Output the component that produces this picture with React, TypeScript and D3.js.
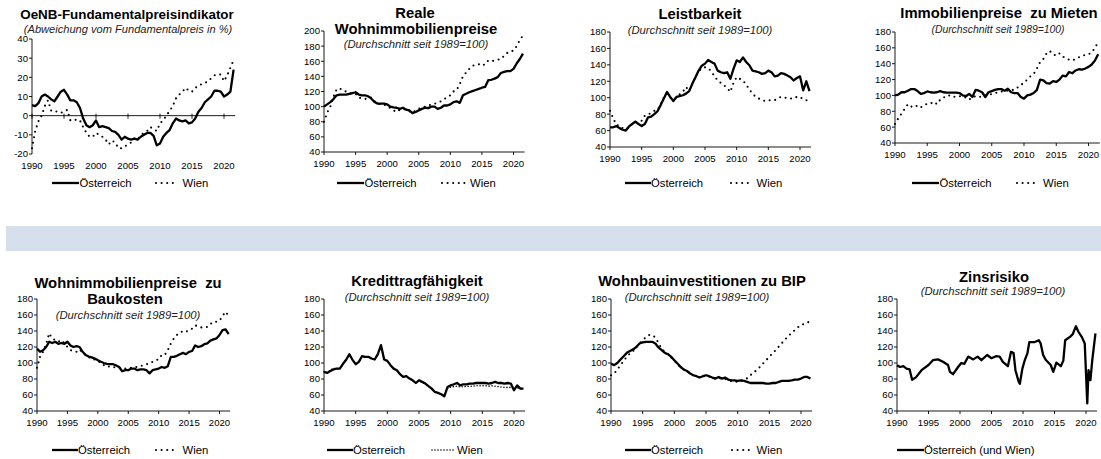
import React from 'react';
import * as d3 from 'd3';

// half-year grid of the series (1990 .. 2021.5)
const halfYears = d3.range(64).map(i => 1990 + i * 0.5);
const yearTicks = [1990, 1995, 2000, 2005, 2010, 2015, 2020];

// OeNB-Fundamentalpreisindikator (% deviation)
const fpiAT = [
  5.5, 5, 6.5, 10, 11, 10, 8.5, 7.5, 10, 12.5,
  13.5, 11, 8, 8, 7, 4, -1.5, -5, -6, -5,
  -2.5, -6, -5.5, -6, -6.5, -8, -8.5, -10, -12.5, -11,
  -12, -12.5, -12, -12.5, -11, -10, -9, -9, -10.5, -15.5,
  -14.5, -11, -9, -7.5, -4, -1.5, -2.5, -3, -2.5, -4,
  -3.5, -1.5, 2, 4, 7, 8.5, 10, 13, 13, 12.5,
  10, 11, 12.5, 24,
];
const fpiW = [
  -17, -8, -3, 0, 5, 8, 2.5, 2.5, 2, 1.5,
  2, 3, -2.5, -2.5, -2, -2.5, -6, -9, -11, -11,
  -9, -10, -11, -12.5, -15, -13, -14, -17, -17, -16,
  -15, -14, -12, -12.5, -10, -9, -8, -6, -7, -8,
  -4, -2.5, 0, 2.5, 5, 9, 11, 12.5, 14.5, 13,
  12.5, 14.5, 15.5, 16.5, 17, 18, 19.5, 21, 21.5, 21.5,
  18, 21, 25, 29,
];

// Reale Wohnimmobilienpreise
const realAT = [
  100, 103, 106, 110, 115, 116, 116, 116, 117, 118,
  119, 116, 115, 115, 113.5, 110.5, 106, 104, 104, 104,
  103, 100, 99, 98.5, 97, 98.5, 96, 95, 91.5, 93,
  95, 97, 98.5, 98, 100, 100, 97, 98.5, 101.5, 101.5,
  103, 106, 107, 105, 115, 117, 119, 120.5, 122, 123.5,
  125, 126, 135, 135.5, 137, 139, 144.5, 146, 147, 147,
  150, 157, 163, 170,
];
const realW = [
  80, 92, 100, 113, 123, 124, 121, 120, 118, 117,
  117, 112, 111, 110, 112, 112, 107, 104, 103, 103,
  100, 98, 95, 93, 96, 97, 96, 94, 92, 95,
  97, 99, 100, 101, 103, 104, 105, 107, 110, 112,
  115, 120, 122, 130, 140, 145, 150, 154, 155, 156,
  154, 156, 161, 160, 161, 162, 163, 167, 171, 173,
  174, 180, 188, 194,
];

// Leistbarkeit
const leistAT = [
  64, 64, 65.5, 63, 61, 60, 65, 68, 71, 68,
  65.5, 68, 76, 77, 80, 83.5, 91, 99, 107, 101,
  96, 101, 102, 103, 105, 108, 117, 125, 133, 139,
  141.5, 146, 143.5, 141.5, 133, 131, 130, 131, 123, 135,
  145.5, 143.5, 149, 143.5, 139.5, 133, 132, 131, 129, 130,
  133, 131, 126, 127, 130, 129, 127, 125, 121, 124,
  126, 109, 120, 108,
];
const leistW = [
  84, 75, 67, 66, 63, 62, 64, 68, 70, 69,
  72, 78, 79, 82, 84, 85, 92, 100, 105, 100,
  98, 100, 104, 107, 113, 108, 117, 126, 132, 136,
  137, 136, 132, 126, 121, 118, 115, 112, 107, 118,
  125, 123, 121, 116, 110, 105, 101, 99, 97, 96,
  97, 97, 97, 99, 101, 100, 100, 99, 99, 101,
  101, 98, 97, 95,
];

// Immobilienpreise zu Mieten
const mieteAT = [
  100, 101, 104, 104, 106, 108, 108, 105.5, 102, 103,
  105, 104, 103.5, 104, 105.5, 104, 103.5, 103.5, 103.5, 103.5,
  103, 100, 99, 102, 98, 107, 106, 104, 98, 104,
  105.5, 107, 108, 108, 106, 108.5, 104, 103, 103, 98,
  96, 100, 101, 103, 107, 120, 119, 115.5, 115, 118,
  117, 120, 125, 124, 129.5, 128, 131.5, 133, 132.5, 134,
  136, 139, 144, 152,
];
const mieteW = [
  64, 71, 77, 83, 89, 86, 85, 87.5, 85, 87.5,
  89.5, 89.5, 92, 89, 94.5, 97, 100, 100, 98, 99,
  99, 99, 97, 94.5, 98, 99, 98, 99, 100, 100,
  102, 103, 104, 105, 106, 106, 107, 107, 110, 113,
  116, 120, 124, 127, 134, 142, 146, 153, 156, 152,
  150, 153, 149, 147, 145, 144, 146, 148, 150, 151,
  152, 154, 160, 167,
];

// Wohnimmobilienpreise zu Baukosten
const baukAT = [
  118, 114, 116, 120, 126.5, 125, 126.5, 124, 125, 124,
  126.5, 122, 120, 121, 120, 114, 110, 108, 107, 105.5,
  103.5, 101.5, 100, 99, 98.5, 98.5, 97, 95, 89.7, 91,
  91, 93, 93, 91, 92, 92, 91, 87, 91, 92,
  93, 95, 94, 96, 107.7, 107.7, 109, 111, 112.7, 111,
  114, 115, 122, 120, 121, 123.5, 124.5, 128, 129.5, 130.7,
  135, 141, 142, 136,
];
const baukW = [
  94, 107.7, 114, 123.5, 137, 130.7, 128.6, 126.5, 128.6, 124.4,
  120, 116, 115, 114, 117, 112.7, 110, 107.7, 104.4, 104.4,
  102.7, 100, 97.3, 95, 96, 95, 94.3, 94, 93, 93,
  93, 94.3, 95, 95, 96, 97.3, 98.5, 99.3, 101.4, 103.5,
  104.4, 110, 110, 116, 124.4, 130.7, 135, 137.8, 140, 139,
  141, 143, 147, 146, 144.5, 144.5, 145, 148.6, 151.6, 151.6,
  152.8, 158.7, 164, 158.7,
];

// Kredittragfähigkeit
const kreditAT = [
  89, 87.6, 90, 92, 93, 93, 99, 104, 111, 104,
  98.5, 101.4, 108.5, 107.7, 107.7, 105.6, 104.4, 111, 122.3, 104.4,
  102.7, 97.3, 93, 91, 86, 82.6, 83.5, 80.5, 78.4, 75,
  78.4, 76.4, 74.3, 71, 68, 63.8, 62.6, 61, 58.4, 70,
  72, 73.4, 75, 72, 73.4, 73.4, 74.3, 74.3, 75, 75,
  75, 75, 74.3, 75, 76.4, 75, 75, 74.3, 75, 74.3,
  66, 72, 68, 68,
];
const kreditW = [
  89, 88, 91, 93, 93, 93, 99, 104, 110, 104,
  98.5, 101, 108, 107.5, 107.5, 105.5, 104.5, 110, 121, 104,
  102.5, 97, 93, 91, 86, 82.6, 83.5, 80.5, 78.4, 75,
  78, 76, 74, 71, 68, 64, 62.6, 61, 59, 68,
  70, 70.5, 71, 70, 70.5, 70.5, 71, 71, 71.5, 71.5,
  71.5, 71.5, 71, 71.5, 71, 70.5, 70, 69.5, 69.5, 69.5,
  67, 69, 68, 67,
];

// Wohnbauinvestitionen zu BIP
const bipAT = [
  99.3, 97.3, 100, 104.4, 108.5, 112.7, 115, 117, 120, 124.4,
  125.7, 126.5, 126.5, 126.5, 124.4, 119.4, 116, 112.7, 111, 107.7,
  103.5, 99.3, 95, 91.8, 90, 86.8, 84.7, 83.5, 81.8, 83.5,
  84.7, 83.5, 81.8, 80.5, 82.6, 80.5, 81.8, 79.3, 78.4, 78.4,
  77.6, 78.4, 77.6, 76.4, 75, 75, 75, 75, 75, 74.3,
  74.3, 75, 75, 76.4, 77.6, 77.6, 77.6, 78.4, 79.3, 79.3,
  80.5, 82.6, 82.6, 80.5,
];
const bipW = [
  84.7, 86.8, 91.8, 97.3, 102.7, 107.7, 112, 115, 119.4, 124.4,
  128.6, 132, 135, 135, 132, 125, 118, 114, 111, 106.9,
  102.7, 98.5, 94.3, 91.8, 90, 86.8, 84.7, 83.5, 82, 83,
  84, 83, 82, 80.5, 81.5, 80, 80, 78.5, 77.5, 77,
  76.5, 78, 78.4, 81, 84.7, 88, 91, 95, 99.3, 103.5,
  107.7, 112, 116, 120.5, 125, 129.5, 133.6, 137.5, 141, 144.5,
  147.4, 149, 150.3, 152.8,
];

// Zinsrisiko (read at the turning points of the line)
const zinsYears = [
  1990, 1990.5, 1991, 1991.5, 1992, 1992.4, 1993, 1993.9, 1995, 1995.7,
  1996.5, 1997.3, 1998.1, 1998.4, 1998.9, 1999.7, 2000.2, 2000.7, 2001.3, 2002.1,
  2002.8, 2003.4, 2004.3, 2005, 2005.7, 2006.3, 2006.8, 2007.6, 2008.1, 2008.5,
  2008.8, 2009.3, 2009.5, 2009.9, 2010.3, 2010.7, 2011, 2011.8, 2012.5, 2012.8,
  2013.2, 2013.6, 2014.4, 2014.8, 2015.3, 2016, 2016.4, 2016.7, 2017.5, 2017.9,
  2018.4, 2018.8, 2019.3, 2019.8, 2020.2, 2020.4, 2020.7, 2021, 2021.5,
];
const zinsAT = [
  97, 95, 96, 93, 92, 79, 82, 91, 97.5, 103.5,
  104.5, 101.5, 97.5, 89, 86, 95, 100, 99, 108, 104.5,
  108, 103.5, 110, 106, 108.5, 108, 101.5, 96, 114, 112.5,
  91, 77, 74, 93, 104, 112, 126, 126, 128.5, 124.5,
  110, 104, 97.5, 89, 100.5, 96, 103, 128.5, 133, 136,
  146, 139, 133, 124.5, 49.5, 91, 78.5, 104, 137,
];

const font = '"Liberation Sans", Arial, sans-serif';

interface Series { years: number[]; values: number[]; dotted?: boolean; tight?: boolean }
interface TextPos { text: string; x: number; y: number }
interface PanelCfg {
  axisX: number; x2020: number; yTop: number; yBottom: number;
  yMax: number; yMin: number; yStep: number; zeroLine?: boolean;
  series: Series[];
  titles: TextPos[]; subtitle: TextPos; subSize?: number; titleSize?: number;
  legendY: number;
  legendAT: { x1: number; x2: number; tx: number; label: string };
  legendW?: { x1: number; x2: number; tx: number; tight?: boolean };
}

const panels: PanelCfg[] = [
  {
    axisX: 32, x2020: 224, yTop: 39, yBottom: 154, yMax: 40, yMin: -20, yStep: 10, zeroLine: true,
    series: [{ years: halfYears, values: fpiW, dotted: true }, { years: halfYears, values: fpiAT }],
    titles: [{ text: 'OeNB-Fundamentalpreisindikator', x: 127, y: 18.5 }], titleSize: 13.4,
    subtitle: { text: '(Abweichung vom Fundamentalpreis in %)', x: 128, y: 33 }, subSize: 11.1,
    legendY: 183, legendAT: { x1: 52, x2: 79, tx: 79.5, label: 'Österreich' }, legendW: { x1: 156, x2: 174, tx: 182.5 },
  },
  {
    axisX: 324, x2020: 513.5, yTop: 31, yBottom: 152, yMax: 200, yMin: 40, yStep: 20,
    series: [{ years: halfYears, values: realW, dotted: true }, { years: halfYears, values: realAT }],
    titles: [{ text: 'Reale', x: 415, y: 17.5 }, { text: 'Wohnimmobilienpreise', x: 416, y: 34 }],
    subtitle: { text: '(Durchschnitt seit 1989=100)', x: 416, y: 48 },
    legendY: 183, legendAT: { x1: 337, x2: 364, tx: 364.5, label: 'Österreich' }, legendW: { x1: 442, x2: 465, tx: 470 },
  },
  {
    axisX: 610, x2020: 800, yTop: 32, yBottom: 147, yMax: 180, yMin: 40, yStep: 20,
    series: [{ years: halfYears, values: leistW, dotted: true }, { years: halfYears, values: leistAT }],
    titles: [{ text: 'Leistbarkeit', x: 700, y: 19 }],
    subtitle: { text: '(Durchschnitt seit 1989=100)', x: 700, y: 33.5 },
    legendY: 183, legendAT: { x1: 625, x2: 651, tx: 651, label: 'Österreich' }, legendW: { x1: 731, x2: 750, tx: 756.5 },
  },
  {
    axisX: 895, x2020: 1088.5, yTop: 32, yBottom: 143, yMax: 180, yMin: 40, yStep: 20,
    series: [{ years: halfYears, values: mieteW, dotted: true }, { years: halfYears, values: mieteAT }],
    titles: [{ text: 'Immobilienpreise  zu Mieten', x: 999, y: 18 }],
    subtitle: { text: '(Durchschnitt seit 1989=100)', x: 998, y: 32.5 }, subSize: 10.4,
    legendY: 183, legendAT: { x1: 912, x2: 939, tx: 939.5, label: 'Österreich' }, legendW: { x1: 1017, x2: 1035, tx: 1043 },
  },
  {
    axisX: 37, x2020: 219.5, yTop: 299, yBottom: 411, yMax: 180, yMin: 40, yStep: 20,
    series: [{ years: halfYears, values: baukW, dotted: true }, { years: halfYears, values: baukAT }],
    titles: [{ text: 'Wohnimmobilienpreise  zu', x: 128, y: 288 }, { text: 'Baukosten', x: 125, y: 304 }],
    subtitle: { text: '(Durchschnitt seit 1989=100)', x: 128, y: 319 },
    legendY: 450, legendAT: { x1: 52, x2: 78, tx: 78, label: 'Österreich' }, legendW: { x1: 156, x2: 174, tx: 182.5 },
  },
  {
    axisX: 324, x2020: 514, yTop: 299, yBottom: 411, yMax: 180, yMin: 40, yStep: 20,
    series: [{ years: halfYears, values: kreditW, dotted: true, tight: true }, { years: halfYears, values: kreditAT }],
    titles: [{ text: 'Kredittragfähigkeit', x: 417, y: 286 }],
    subtitle: { text: '(Durchschnitt seit 1989=100)', x: 417, y: 300.5 },
    legendY: 450, legendAT: { x1: 327, x2: 353, tx: 353, label: 'Österreich' }, legendW: { x1: 432, x2: 455, tx: 457, tight: true },
  },
  {
    axisX: 611, x2020: 801, yTop: 299, yBottom: 411, yMax: 180, yMin: 40, yStep: 20,
    series: [{ years: halfYears, values: bipW, dotted: true }, { years: halfYears, values: bipAT }],
    titles: [{ text: 'Wohnbauinvestitionen zu BIP', x: 702, y: 286 }],
    subtitle: { text: '(Durchschnitt seit 1989=100)', x: 697, y: 300.5 },
    legendY: 450, legendAT: { x1: 625, x2: 651, tx: 651, label: 'Österreich' }, legendW: { x1: 732, x2: 750, tx: 756.5 },
  },
  {
    axisX: 897, x2020: 1086, yTop: 299, yBottom: 411, yMax: 180, yMin: 40, yStep: 20,
    series: [{ years: zinsYears, values: zinsAT }],
    titles: [{ text: 'Zinsrisiko', x: 994, y: 282 }],
    subtitle: { text: '(Durchschnitt seit 1989=100)', x: 993, y: 295 },
    legendY: 450, legendAT: { x1: 897, x2: 924, tx: 924, label: 'Österreich (und Wien)' },
  },
];

const dotDash = '0 5.6';
const tightDash = '0 3';

const Panel: React.FC<{ cfg: PanelCfg }> = ({ cfg }) => {
  const x = d3.scaleLinear().domain([1990, 2020]).range([cfg.axisX, cfg.x2020]);
  const y = d3.scaleLinear().domain([cfg.yMin, cfg.yMax]).range([cfg.yBottom, cfg.yTop]);
  const yTicks = d3.range(cfg.yMin, cfg.yMax + 0.001, cfg.yStep);
  const xEnd = x(2021.75);
  const axisY = cfg.zeroLine ? y(0) : cfg.yBottom;

  return (
    <g>
      {cfg.titles.map((t, i) => (
        <text key={i} x={t.x} y={t.y} textAnchor="middle" fontFamily={font} fontWeight="bold"
          fontSize={cfg.titleSize ?? 14.8} style={{ whiteSpace: 'pre' }}>{t.text}</text>
      ))}
      <text x={cfg.subtitle.x} y={cfg.subtitle.y} textAnchor="middle" fontFamily={font} fontStyle="italic"
        fontSize={cfg.subSize ?? 11.3} fill="#222">{cfg.subtitle.text}</text>

      {/* y axis */}
      <line x1={cfg.axisX} x2={cfg.axisX} y1={cfg.yTop} y2={cfg.yBottom} stroke="#000" strokeWidth={0.9} />
      {yTicks.map(v => (
        <g key={v}>
          <line x1={cfg.axisX - 3} x2={cfg.axisX} y1={y(v)} y2={y(v)} stroke="#000" strokeWidth={0.9} />
          <text x={cfg.axisX - 4} y={y(v)} dy="0.36em" textAnchor="end" fontFamily={font} fontSize={9.6}>{v}</text>
        </g>
      ))}

      {/* x axis */}
      <line x1={cfg.axisX} x2={xEnd} y1={axisY} y2={axisY} stroke="#000" strokeWidth={0.9} />
      {yearTicks.map(t => (
        <g key={t}>
          <line x1={x(t)} x2={x(t)} y1={cfg.zeroLine ? axisY - 2 : axisY} y2={axisY + 3} stroke="#000" strokeWidth={0.9} />
          <text x={x(t)} y={cfg.yBottom + 15} textAnchor="middle" fontFamily={font} fontSize={9.6}>{t}</text>
        </g>
      ))}

      {/* series */}
      {cfg.series.map((s, i) => {
        const pts: [number, number][] = s.years.map((yr, j) => [x(yr), y(s.values[j])]);
        const d = d3.line()(pts) ?? '';
        return s.dotted ? (
          <path key={i} d={d} fill="none" stroke="#000" strokeWidth={s.tight ? 1.6 : 2.1}
            strokeLinecap="round" strokeDasharray={s.tight ? tightDash : dotDash} />
        ) : (
          <path key={i} d={d} fill="none" stroke="#000" strokeWidth={2.3} strokeLinejoin="round" />
        );
      })}

      {/* legend */}
      <line x1={cfg.legendAT.x1} x2={cfg.legendAT.x2} y1={cfg.legendY} y2={cfg.legendY} stroke="#000" strokeWidth={2.3} />
      <text x={cfg.legendAT.tx} y={cfg.legendY} dy="0.36em" fontFamily={font} fontSize={11.3}>{cfg.legendAT.label}</text>
      {cfg.legendW && (
        <g>
          <line x1={cfg.legendW.x1} x2={cfg.legendW.x2} y1={cfg.legendY} y2={cfg.legendY} stroke="#000"
            strokeWidth={cfg.legendW.tight ? 1.6 : 2.1} strokeLinecap="round"
            strokeDasharray={cfg.legendW.tight ? tightDash : dotDash} />
          <text x={cfg.legendW.tx} y={cfg.legendY} dy="0.36em" fontFamily={font} fontSize={11.3}>Wien</text>
        </g>
      )}
    </g>
  );
};

const App: React.FC = () => (
  <svg width={1101} height={459} style={{ position: 'absolute', left: 0, top: 0, background: '#fff' }}>
    <rect x={0} y={0} width={1101} height={459} fill="#fff" />
    <rect x={6} y={226} width={1095} height={25} fill="#d6e0ed" />
    {panels.map((p, i) => <Panel key={i} cfg={p} />)}
  </svg>
);

export default App;
